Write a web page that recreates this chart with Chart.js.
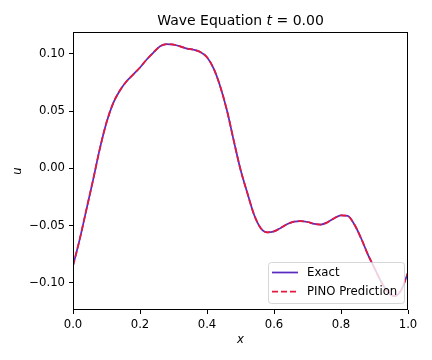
<!DOCTYPE html>
<html lang="en">
<head>
  <meta charset="UTF-8" />
  <title>Wave Equation</title>
  <script src="https://cdn.jsdelivr.net/npm/chart.js"></script>
  <style>
    body { margin: 0; background: #fff; }
    #wrap { width: 432px; height: 360px; }
  </style>
</head>
<body>
  <div id="wrap"><canvas id="waveChart" width="432" height="360"></canvas></div>
  <script>
    // values
    const xs = [0.00, 0.02, 0.04, 0.06, 0.08, 0.10, 0.12, 0.14, 0.16, 0.18,
      0.20, 0.22, 0.24, 0.26, 0.28, 0.30, 0.32, 0.34, 0.36, 0.38,
      0.40, 0.42, 0.44, 0.46, 0.48, 0.50, 0.52, 0.54, 0.56, 0.58,
      0.60, 0.62, 0.64, 0.66, 0.68, 0.70, 0.72, 0.74, 0.76, 0.78,
      0.80, 0.82, 0.84, 0.86, 0.88, 0.90, 0.92, 0.94, 0.96, 0.98, 1.00];
    const exactU = [-0.085, -0.062, -0.036, -0.010, 0.017, 0.040, 0.057, 0.068, 0.076, 0.082,
      0.088, 0.095, 0.101, 0.1065, 0.1085, 0.108, 0.1065, 0.1045, 0.1035, 0.1015,
      0.097, 0.087, 0.071, 0.050, 0.024, -0.001, -0.021, -0.040, -0.052, -0.0558,
      -0.055, -0.052, -0.0485, -0.0465, -0.046, -0.0468, -0.0485, -0.049, -0.047, -0.0435,
      -0.041, -0.0415, -0.049, -0.061, -0.075, -0.087, -0.099, -0.108, -0.1115, -0.106, -0.091];
    const pinoU = [-0.085, -0.062, -0.036, -0.010, 0.017, 0.040, 0.057, 0.068, 0.076, 0.082,
      0.088, 0.095, 0.101, 0.1065, 0.1085, 0.108, 0.1065, 0.1045, 0.1035, 0.1015,
      0.097, 0.087, 0.071, 0.050, 0.024, -0.001, -0.021, -0.040, -0.052, -0.0558,
      -0.055, -0.052, -0.0485, -0.0465, -0.046, -0.0468, -0.0485, -0.049, -0.047, -0.0435,
      -0.041, -0.0415, -0.049, -0.061, -0.075, -0.087, -0.099, -0.108, -0.1115, -0.106, -0.091];

    const xTicks = [0, 0.2, 0.4, 0.6, 0.8, 1.0];
    const xTickLabels = ['0.0', '0.2', '0.4', '0.6', '0.8', '1.0'];
    const yTicks = [-0.10, -0.05, 0, 0.05, 0.10];
    const yTickLabels = ['\u22120.10', '\u22120.05', '0.00', '0.05', '0.10'];
    const seriesNames = ['Exact', 'PINO Prediction'];

    const FONT = 'DejaVu Sans';
    const exactColor = '#5b2bc0';
    const pinoColor = '#e6193c';

    // matplotlib style frame + legend drawn over the lines
    const frameAndLegend = {
      id: 'frameAndLegend',
      afterDatasetsDraw(chart) {
        const ctx = chart.ctx;
        const a = chart.chartArea;
        ctx.save();
        ctx.strokeStyle = '#000';
        ctx.lineWidth = 1;
        const l = Math.floor(a.left) + 0.5, r = Math.floor(a.right) - 0.5;
        const t = Math.floor(a.top) + 0.5, b = Math.floor(a.bottom) - 0.5;
        ctx.strokeRect(l, t, r - l, b - t);

        // legend box
        const bx = 268.5, by = 262.5, bw = 136, bh = 41;
        ctx.beginPath();
        ctx.roundRect(bx, by, bw, bh, 3);
        ctx.fillStyle = 'rgba(255,255,255,0.8)';
        ctx.fill();
        ctx.strokeStyle = 'rgba(204,204,204,0.8)';
        ctx.stroke();

        const rows = [272.5, 291.5];
        const colors = [exactColor, pinoColor];
        ctx.lineWidth = 1.75;
        rows.forEach((y, i) => {
          ctx.beginPath();
          ctx.setLineDash(i === 1 ? [6, 3] : []);
          ctx.strokeStyle = colors[i];
          ctx.moveTo(272, y);
          ctx.lineTo(298, y);
          ctx.stroke();
        });
        ctx.setLineDash([]);
        ctx.fillStyle = '#000';
        ctx.font = '11.7px "' + FONT + '"';
        ctx.textBaseline = 'middle';
        ctx.textAlign = 'left';
        seriesNames.forEach((name, i) => ctx.fillText(name, 307, rows[i]));
        ctx.restore();
      }
    };

    // title with italic t
    const mixedTitle = {
      id: 'mixedTitle',
      afterDraw(chart) {
        const ctx = chart.ctx;
        const a = chart.chartArea;
        const parts = [
          ['Wave Equation ', 'normal'],
          ['t', 'italic'],
          [' = 0.00', 'normal']
        ];
        ctx.save();
        let total = 0;
        parts.forEach(p => {
          ctx.font = p[1] + ' 14px "' + FONT + '"';
          total += ctx.measureText(p[0]).width;
        });
        let x = (a.left + a.right) / 2 - total / 2;
        ctx.fillStyle = '#000';
        ctx.textBaseline = 'alphabetic';
        ctx.textAlign = 'left';
        parts.forEach(p => {
          ctx.font = p[1] + ' 14px "' + FONT + '"';
          ctx.fillText(p[0], x, 25);
          x += ctx.measureText(p[0]).width;
        });
        ctx.restore();
      }
    };

    const tickFont = { family: FONT, size: 11.7 };

    new Chart(document.getElementById('waveChart'), {
      type: 'line',
      data: {
        datasets: [{
          label: seriesNames[0],
          data: xs.map((x, i) => ({ x: x, y: exactU[i] })),
          borderColor: exactColor,
          borderWidth: 1.75,
          pointRadius: 0,
          cubicInterpolationMode: 'monotone',
          order: 1
        }, {
          label: seriesNames[1],
          data: xs.map((x, i) => ({ x: x, y: pinoU[i] })),
          borderColor: pinoColor,
          borderWidth: 1.75,
          borderDash: [6, 3],
          pointRadius: 0,
          cubicInterpolationMode: 'monotone',
          order: 0
        }]
      },
      options: {
        responsive: false,
        animation: false,
        devicePixelRatio: 1,
        layout: { padding: { top: 32, right: 24, bottom: 0, left: 0 } },
        plugins: {
          legend: { display: false },
          title: { display: false },
          tooltip: { enabled: false }
        },
        scales: {
          x: {
            type: 'linear',
            min: 0,
            max: 1,
            afterBuildTicks: s => { s.ticks = xTicks.map(v => ({ value: v })); },
            afterFit: s => { s.height = 50; },
            ticks: {
              callback: (v, i) => xTickLabels[i],
              font: tickFont,
              color: '#000',
              padding: 4,
              maxRotation: 0,
              autoSkip: false
            },
            grid: { drawOnChartArea: false, drawTicks: true, tickLength: 4, color: '#000' },
            border: { display: false },
            title: {
              display: true,
              text: 'x',
              color: '#000',
              font: { family: FONT, size: 11.7, style: 'italic' },
              padding: { top: 0, bottom: 13 }
            }
          },
          y: {
            min: -0.1236,
            max: 0.119,
            afterBuildTicks: s => { s.ticks = yTicks.map(v => ({ value: v })); },
            afterFit: s => { s.width = 73; },
            ticks: {
              callback: (v, i) => yTickLabels[i],
              font: tickFont,
              color: '#000',
              padding: 4
            },
            grid: { drawOnChartArea: false, drawTicks: true, tickLength: 4, color: '#000' },
            border: { display: false },
            title: {
              display: true,
              text: 'u',
              color: '#000',
              font: { family: FONT, size: 11.7, style: 'italic' },
              padding: { top: 11, bottom: 0 }
            }
          }
        }
      },
      plugins: [frameAndLegend, mixedTitle]
    });
  </script>
</body>
</html>
